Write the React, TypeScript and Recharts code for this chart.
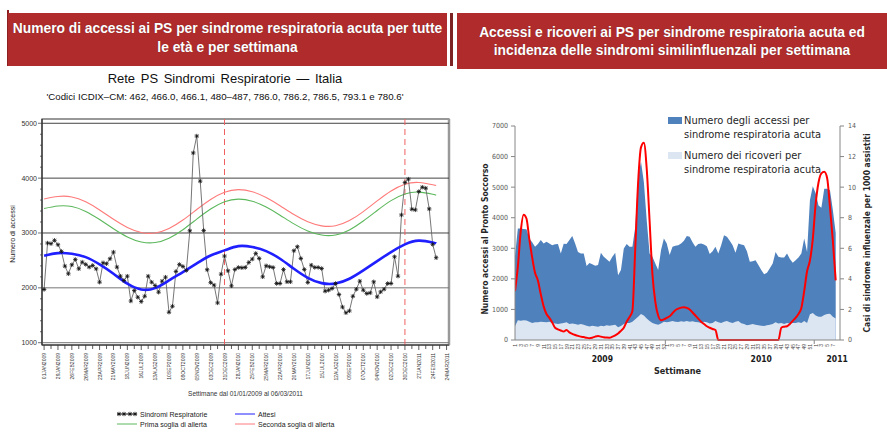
import React from "react";
import { ComposedChart, Line, Area, XAxis, YAxis, ReferenceLine, ReferenceArea } from "recharts";

// ---------- grafico di sinistra: settimane dal 01/01/2009 (indice 0) al 06/03/2011 (indice 113)
const sindromiRespiratorie = [
  1970, 2817, 2805, 2866, 2786, 2664, 2396, 2256, 2420, 2518,
  2347, 2469, 2427, 2378, 2408, 2347, 2103, 2457, 2439, 2530,
  2652, 2378, 2213, 2134, 2213, 1760, 1951, 1829, 1750, 1847,
  2213, 2103, 2042, 1920, 2122, 2195, 1555, 1664, 2299, 2427,
  2390, 2317, 3040, 4460, 4768, 3945, 3045, 2330, 2095, 2050,
  1725, 2250, 2580, 2311, 2036, 2335, 2372, 2366, 2372, 2463,
  2524, 2628, 2536, 2201, 2402, 2384, 2372, 2079, 2079, 2335,
  2110, 2110, 2677, 2750, 2536, 2335, 2097, 2414, 2372, 2372,
  2353, 1939, 1957, 1988, 2079, 1878, 1650, 1545, 1580, 1847,
  1975, 2122, 1957, 1896, 1908, 2110, 1835, 1927, 1975, 2079,
  2079, 2567, 2213, 3329, 3921, 3982, 3433, 3421, 3756, 3835,
  3817, 3439, 2793, 2549,
];

// curve attese e soglie, lette ogni 4 settimane
const settimaneCurve = [0, 4, 8, 12, 16, 20, 24, 28, 32, 36, 40, 44, 48, 52, 56, 60, 64, 68, 72, 76, 80, 84, 88, 92, 96, 100, 104, 108, 112, 113];
const attesi = [2585, 2633, 2622, 2560, 2427, 2257, 2075, 1970, 1995, 2135, 2287, 2445, 2590, 2683, 2760, 2743, 2670, 2530, 2348, 2183, 2086, 2080, 2166, 2318, 2487, 2652, 2792, 2860, 2828, 2810];
const primaSoglia = [3445, 3492, 3482, 3393, 3245, 3077, 2928, 2837, 2826, 2905, 3060, 3252, 3436, 3570, 3618, 3580, 3473, 3325, 3166, 3036, 2962, 2964, 3056, 3218, 3410, 3590, 3710, 3745, 3706, 3690];
const secondaSoglia = [3620, 3666, 3657, 3568, 3420, 3250, 3101, 3010, 3000, 3081, 3236, 3428, 3611, 3743, 3790, 3752, 3645, 3496, 3336, 3204, 3130, 3132, 3226, 3390, 3585, 3766, 3888, 3921, 3880, 3865];

const etichetteDate = [
  "01JAN2009", "29JAN2009", "26FEB2009", "26MAR2009", "23APR2009", "21MAY2009", "18JUN2009", "16JUL2009",
  "13AUG2009", "10SEP2009", "08OCT2009", "05NOV2009", "03DEC2009", "31DEC2009", "28JAN2010", "25FEB2010",
  "25MAR2010", "22APR2010", "20MAY2010", "17JUN2010", "15JUL2010", "12AUG2010", "09SEP2010", "07OCT2010",
  "04NOV2010", "02DEC2010", "30DEC2010", "27JAN2011", "24FEB2011", "24MAR2011",
];
const griglia = [1000, 2000, 3000, 4000, 5000];
const inizioAnno = [52, 104];

// ---------- grafico di destra
const anni = [
  { anno: "2009", settimane: 53 },
  { anno: "2010", settimane: 52 },
  { anno: "2011", settimane: 8 },
];
const posizioneAnni = [30.5, 86, 112.5];
const separatoriAnni = [52.5, 104.5];

const accessiPS = [
  2750, 3650, 3650, 3630, 3620, 3320, 3200, 3050, 3140, 3270,
  3160, 3210, 3160, 3100, 3130, 3140, 2830, 3150, 3140, 3270,
  3400, 3160, 2880, 2830, 2830, 2420, 2520, 2480, 2430, 2450,
  2850, 2720, 2640, 2560, 2720, 2850, 2120, 2290, 2990, 3140,
  3050, 3050, 3700, 5340, 5830, 5170, 3920, 2830, 2720, 2500,
  2290, 2940, 3320, 3160, 2780, 3050, 3080, 3100, 3160, 3250,
  3400, 3380, 3200, 3050, 3140, 3160, 3120, 3070, 2810, 2900,
  3050, 2830, 3100, 3430, 3380, 3250, 3100, 2850, 3160, 3120,
  3100, 2900, 2560, 2580, 2610, 2450, 2290, 2150, 2200, 2350,
  2500, 2880, 2720, 2700, 2700, 2830, 2650, 2530, 2610, 2700,
  2830, 3320, 2880, 4570, 5030, 4800, 4400, 4330, 4950, 4950,
  4900, 4250, 3500,
];
const ricoveriPS = [
  450, 650, 630, 650, 640, 600, 560, 580, 580, 600,
  590, 580, 600, 560, 540, 520, 540, 560, 580, 520,
  540, 520, 500, 520, 500, 470, 440, 470, 450, 430,
  470, 450, 480, 470, 480, 500, 420, 460, 520, 560,
  560, 600, 680, 760, 850, 800, 700, 620, 560, 520,
  500, 540, 600, 580, 600, 620, 600, 590, 610, 600,
  620, 600, 610, 590, 580, 560, 600, 580, 540, 560,
  620, 580, 560, 600, 620, 580, 560, 600, 620, 550,
  520, 480, 500, 520, 500, 480, 470, 460, 480, 500,
  520, 580, 540, 560, 520, 560, 540, 560, 560, 580,
  560, 620, 560, 840, 880, 800, 760, 760, 820, 850,
  860, 760, 700,
];
const incidenzaILI = [
  3.2, 4.8, 7.1, 8.2, 7.95, 6.6, 5.4, 4.4, 3.9, 3.0,
  2.2, 1.7, 1.45, 1.15, 0.8, 0.7, 0.62, 0.55, 0.65, 0.5,
  0.4, 0.33, 0.27, 0.22, 0.19, 0.15, 0.12, 0.15, 0.22, 0.26,
  0.22, 0.18, 0.16, 0.15, 0.22, 0.3, 0.42, 0.6, 0.8, 1.2,
  1.5, 1.9, 6.0, 10.3, 12.6, 12.9, 11.2, 7.8, 4.3, 2.5,
  1.6, 1.3, 1.35, 1.45, 1.55, 1.75, 1.95, 2.05, 2.12, 2.15,
  2.1, 2.0, 1.8, 1.6, 1.4, 1.2, 1.05, 0.9, 0.8, 0.72,
  0.65, 0, 0, 0, 0, 0, 0, 0, 0, 0,
  0, 0, 0, 0, 0, 0, 0, 0, 0, 0,
  0, 0, 0, 0.8, 0.87, 0.9, 1.05, 1.25, 1.45, 1.7,
  2.1, 3.2, 4.5, 5.2, 6.6, 8.9, 10.3, 10.9, 11.0, 10.6,
  8.7, 6.5, 3.9,
];

// ---------- tabelle per recharts
const righeSinistra = sindromiRespiratorie.map((v, w) => ({ w, v }));
const curva = (valori: number[]) => valori.map((v, k) => ({ w: settimaneCurve[k], v }));
const tickSettimane = etichetteDate.flatMap((_, k) => (k < etichetteDate.length - 1 ? [k * 4, k * 4 + 2] : [k * 4]));
const tickAccessi: number[] = [];
for (let v = 1000; v <= 5000; v += 200) tickAccessi.push(v);

const settimaneDestra = anni.flatMap((a) => Array.from({ length: a.settimane }, (_, k) => k + 1));
const righeDestra = accessiPS.map((a, i) => ({
  i,
  sett: settimaneDestra[i],
  accessi: a,
  ricoveri: ricoveriPS[i],
  ili: incidenzaILI[i],
}));
const tickDestra = [
  ...righeDestra.filter((r) => r.sett % 2 === 1).map((r) => r.i),
  ...separatoriAnni,
].sort((a, b) => a - b);

const ROSSO = "#B02C2C";
const NARROW = "'Liberation Sans Narrow', 'DejaVu Sans Condensed', Arial, sans-serif";

function Stella(props: any) {
  const { cx, cy } = props;
  if (cx == null || cy == null) return null;
  const r = 2.2;
  const d = 1.6;
  return (
    <path
      d={`M${cx - r},${cy}H${cx + r}M${cx},${cy - r}V${cy + r}M${cx - d},${cy - d}L${cx + d},${cy + d}M${cx - d},${cy + d}L${cx + d},${cy - d}`}
      stroke="#111"
      strokeWidth={0.8}
      fill="none"
    />
  );
}

function TickData(props: any) {
  const { x, y, payload } = props;
  const w = payload.value;
  const major = w % 4 === 0;
  return (
    <g>
      <line x1={x} y1={y} x2={x} y2={y + (major ? 5 : 4)} stroke="#333" strokeWidth={0.8} />
      {major && (
        <text
          x={x}
          y={y + 8}
          transform={`rotate(-90 ${x} ${y + 8})`}
          textAnchor="end"
          dominantBaseline="central"
          fontSize={5}
          fill="#333"
        >
          {etichetteDate[w / 4]}
        </text>
      )}
    </g>
  );
}

function TickAccessi(props: any) {
  const { x, y, payload } = props;
  const v = payload.value;
  const major = v % 1000 === 0;
  return (
    <g>
      <line x1={x - (major ? 4 : 2)} y1={y} x2={x} y2={y} stroke="#333" strokeWidth={0.7} />
      {major && (
        <text x={x - 5} y={y} textAnchor="end" dominantBaseline="central" fontSize={7} fill="#333">
          {v}
        </text>
      )}
    </g>
  );
}

function TickSettimana(props: any) {
  const { x, y, payload } = props;
  const v = payload.value;
  if (!Number.isInteger(v)) {
    return <line x1={x} y1={y} x2={x} y2={y + 4} stroke="#868686" />;
  }
  return (
    <text
      x={x}
      y={y + 4}
      transform={`rotate(-90 ${x} ${y + 4})`}
      textAnchor="end"
      dominantBaseline="central"
      fontSize={5}
      fill="#404040"
    >
      {righeDestra[v].sett}
    </text>
  );
}

function TitoloRuotato({ cx, cy, testo, style }: any) {
  return (
    <div
      style={{
        position: "absolute",
        left: cx,
        top: cy,
        transform: "translate(-50%, -50%) rotate(-90deg)",
        whiteSpace: "nowrap",
        ...style,
      }}
    >
      {testo}
    </div>
  );
}

function VoceSinistra({ x, y, colore, testo, stelle, spessore = 1 }: any) {
  return (
    <div
      style={{
        position: "absolute",
        left: x,
        top: y - 5,
        height: 10,
        display: "flex",
        alignItems: "center",
        fontSize: 7,
        color: "#222",
        whiteSpace: "nowrap",
      }}
    >
      <svg width={21} height={10} style={{ marginRight: 2 }}>
        <line x1={0} y1={5} x2={20} y2={5} stroke={colore} strokeWidth={spessore} />
        {stelle && [2, 7, 13, 18].map((cx) => <Stella key={cx} cx={cx} cy={5} />)}
      </svg>
      {testo}
    </div>
  );
}

function VoceDestra({ y, colore, righe }: any) {
  return (
    <>
      <div style={{ position: "absolute", left: 668, top: y - 4, width: 14, height: 7, background: colore }} />
      <div
        style={{
          position: "absolute",
          left: 684,
          top: y - 7,
          fontFamily: NARROW,
          fontSize: 11,
          lineHeight: "14px",
          color: "#262626",
          whiteSpace: "nowrap",
        }}
      >
        {righe[0]}
        <br />
        {righe[1]}
      </div>
    </>
  );
}

function Intestazioni() {
  const testo: React.CSSProperties = {
    position: "absolute",
    background: ROSSO,
    color: "#fff",
    fontWeight: 700,
    fontSize: 13.8,
    textAlign: "center",
    boxSizing: "border-box",
    whiteSpace: "nowrap",
    textShadow: "0 0 1px rgba(0,0,0,0.35)",
  };
  return (
    <>
      <div style={{ position: "absolute", left: 7, top: 10, width: 1.5, height: 56, background: "#8c1f1f" }} />
      <div style={{ ...testo, left: 8, top: 13, width: 439, height: 53, lineHeight: "19px", paddingTop: 6 }}>
        Numero di accessi ai PS per sindrome respiratoria acuta per tutte
        <br />
        le età e per settimana
      </div>
      <div style={{ position: "absolute", left: 450, top: 13, width: 3, height: 53, background: "#7d2323" }} />
      <div style={{ ...testo, left: 457, top: 13, width: 430, height: 56, lineHeight: "18px", paddingTop: 11 }}>
        Accessi e ricoveri ai PS per sindrome respiratoria acuta ed
        <br />
        incidenza delle sindromi similinfluenzali per settimana
      </div>
    </>
  );
}

function GraficoSinistra() {
  return (
    <>
      <div style={{ position: "absolute", left: 0, top: 71, width: 450, textAlign: "center", fontSize: 13, lineHeight: "16px", color: "#111", wordSpacing: 2 }}>
        Rete PS Sindromi Respiratorie — Italia
      </div>
      <div style={{ position: "absolute", left: 0, top: 91, width: 450, textAlign: "center", fontSize: 9.7, lineHeight: "12px", color: "#111" }}>
        'Codici ICDIX–CM: 462, 466.0, 466.1, 480–487, 786.0, 786.2, 786.5, 793.1 e 780.6'
      </div>
      <TitoloRuotato cx={12} cy={234} testo="Numero di accessi" style={{ fontSize: 7, color: "#222" }} />
      <div style={{ position: "absolute", left: 0, top: 100 }}>
        <ComposedChart width={460} height={300} data={righeSinistra} margin={{ top: 19, right: 11, bottom: 0, left: 0 }}>
          <XAxis
            dataKey="w"
            type="number"
            domain={[-0.6, 116.7]}
            allowDataOverflow
            ticks={tickSettimane}
            interval={0}
            tick={<TickData />}
            tickLine={false}
            tickSize={0}
            tickMargin={0}
            height={55}
            axisLine={{ stroke: "#333" }}
            label={{ value: "Settimane dal 01/01/2009 al 06/03/2011", position: "insideTop", offset: 46, fontSize: 6.5, fill: "#333" }}
          />
          <YAxis
            type="number"
            domain={[958, 5078]}
            allowDataOverflow
            ticks={tickAccessi}
            interval={0}
            tick={<TickAccessi />}
            tickLine={false}
            tickSize={0}
            tickMargin={0}
            width={42}
            axisLine={{ stroke: "#333" }}
          />
          <ReferenceArea x1={-0.6} x2={116.7} y1={958} y2={5078} fill="none" stroke="#333" strokeWidth={1.2} />
          <ReferenceLine x={116.7} stroke="#999" strokeWidth={2.5} />
          {griglia.map((v) => (
            <ReferenceLine key={v} y={v} stroke={v === 2000 || v === 1000 ? "#777" : "#444"} strokeWidth={1} />
          ))}
          {inizioAnno.map((w) => (
            <ReferenceLine key={w} x={w} stroke="#f06060" strokeDasharray="6 4" strokeWidth={1} />
          ))}
          <Line data={curva(secondaSoglia)} dataKey="v" type="natural" stroke="#ff7a7a" strokeWidth={1.1} dot={false} isAnimationActive={false} />
          <Line data={curva(primaSoglia)} dataKey="v" type="natural" stroke="#5cb85c" strokeWidth={1.1} dot={false} isAnimationActive={false} />
          <Line dataKey="v" type="linear" stroke="#666" strokeWidth={0.9} dot={<Stella />} isAnimationActive={false} />
          <Line data={curva(attesi)} dataKey="v" type="natural" stroke="#1f1fff" strokeWidth={2.6} dot={false} isAnimationActive={false} />
        </ComposedChart>
      </div>
      <VoceSinistra x={117} y={414} colore="#222" testo="Sindromi Respiratorie" stelle />
      <VoceSinistra x={235} y={414} colore="#1f1fff" testo="Attesi" />
      <VoceSinistra x={117} y={424} colore="#5cb85c" testo="Prima soglia di allerta" />
      <VoceSinistra x={235} y={424} colore="#ff7a7a" testo="Seconda soglia di allerta" />
    </>
  );
}

function GraficoDestra() {
  const assi = { fontSize: 7, fill: "#595959", fontFamily: NARROW };
  return (
    <>
      <TitoloRuotato cx={485} cy={239} testo="Numero accessi al Pronto Soccorso" style={{ fontSize: 8.5, fontWeight: 700, color: "#262626", fontFamily: NARROW }} />
      <TitoloRuotato cx={867} cy={233} testo="Casi di sindrome influenzale per 1000 assistiti" style={{ fontSize: 8.5, fontWeight: 700, color: "#262626", fontFamily: NARROW }} />
      <div style={{ position: "absolute", left: 470, top: 100 }}>
        <ComposedChart width={417} height={300} data={righeDestra} margin={{ top: 26, right: 0, bottom: 32, left: 0 }}>
          <XAxis
            xAxisId="wk"
            dataKey="i"
            type="number"
            domain={[0, 113.5]}
            allowDataOverflow
            ticks={tickDestra}
            interval={0}
            tick={<TickSettimana />}
            tickLine={false}
            tickSize={0}
            tickMargin={0}
            height={14}
            axisLine={{ stroke: "#868686" }}
          />
          <XAxis
            xAxisId="yr"
            dataKey="i"
            type="number"
            domain={[0, 113.5]}
            allowDataOverflow
            ticks={posizioneAnni}
            interval={0}
            tickFormatter={(_: any, k: number) => anni[k].anno}
            tick={{ fontSize: 8.5, fontWeight: 700, fill: "#1a1a1a", fontFamily: NARROW }}
            tickLine={false}
            tickSize={0}
            tickMargin={2}
            height={14}
            axisLine={false}
            label={{ value: "Settimane", position: "bottom", offset: 0, fontSize: 9, fontWeight: 700, fill: "#262626", fontFamily: NARROW }}
          />
          <YAxis
            yAxisId="l"
            domain={[0, 7000]}
            ticks={[0, 1000, 2000, 3000, 4000, 5000, 6000, 7000]}
            interval={0}
            width={45}
            tick={assi}
            tickSize={4}
            tickMargin={3}
            tickLine={{ stroke: "#868686" }}
            axisLine={{ stroke: "#868686" }}
          />
          <YAxis
            yAxisId="r"
            orientation="right"
            domain={[0, 14]}
            ticks={[0, 2, 4, 6, 8, 10, 12, 14]}
            interval={0}
            width={47}
            tick={assi}
            tickSize={4}
            tickMargin={4}
            tickLine={{ stroke: "#868686" }}
            axisLine={{ stroke: "#868686" }}
          />
          <Area xAxisId="wk" yAxisId="l" dataKey="accessi" type="linear" stroke="none" fill="#4F81BD" fillOpacity={1} isAnimationActive={false} />
          <Area xAxisId="wk" yAxisId="l" dataKey="ricoveri" type="linear" stroke="none" fill="#DCE6F2" fillOpacity={1} isAnimationActive={false} />
          <Line xAxisId="wk" yAxisId="r" dataKey="ili" type="monotone" stroke="#FF0000" strokeWidth={2} dot={false} isAnimationActive={false} />
        </ComposedChart>
      </div>
      <VoceDestra y={121} colore="#4F81BD" righe={["Numero degli accessi per", "sindrome respiratoria acuta"]} />
      <VoceDestra y={156} colore="#DCE6F2" righe={["Numero dei ricoveri per", "sindrome respiratoria acuta"]} />
    </>
  );
}

export default function App() {
  return (
    <div
      style={{
        position: "absolute",
        left: 0,
        top: 0,
        width: 887,
        height: 433,
        background: "#fff",
        overflow: "hidden",
        fontFamily: "'Liberation Sans', Arial, sans-serif",
      }}
    >
      <Intestazioni />
      <GraficoSinistra />
      <GraficoDestra />
    </div>
  );
}
